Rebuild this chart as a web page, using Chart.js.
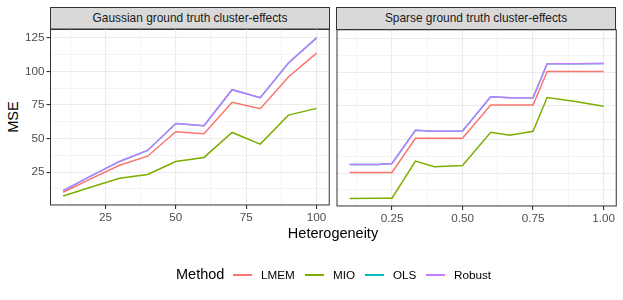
<!DOCTYPE html>
<html>
<head>
<meta charset="utf-8">
<script src="https://cdn.jsdelivr.net/npm/chart.js@4.4.1/dist/chart.umd.min.js"></script>
<style>
  body { margin: 0; background: #fff; font-family: "Liberation Sans", Arial, sans-serif; }
  #wrap { position: relative; width: 623px; height: 300px; overflow: hidden; }
  canvas { position: absolute; }
  .strip {
    position: absolute; top: 7px; height: 23px; box-sizing: border-box;
    background: #D9D9D9; border: 1px solid #333;
    font-size: 11.9px; color: #1a1a1a; text-align: center; line-height: 21px;
  }
  .title { position: absolute; font-size: 14.5px; color: #000; white-space: nowrap; }
  .key { position: absolute; top: 274px; width: 19px; height: 1.5px; }
  .lab { position: absolute; top: 268px; font-size: 11.7px; color: #000; }
</style>
</head>
<body>
<div id="wrap">
  <div class="strip" style="left:50px;width:280px;">Gaussian ground truth cluster-effects</div>
  <div class="strip" style="left:336px;width:280px;">Sparse ground truth cluster-effects</div>
  <canvas id="left" width="331" height="200" style="left:0;top:28px;"></canvas>
  <canvas id="right" width="288" height="200" style="left:335px;top:28px;"></canvas>
  <div class="title" style="left:333px;top:225px;transform:translateX(-50%);">Heterogeneity</div>
  <div class="title" style="left:13px;top:117px;transform:translate(-50%,-50%) rotate(-90deg);">MSE</div>
  <div id="legend"></div>
</div>
<script>
// data
const methods = ['LMEM', 'MIO', 'OLS', 'Robust'];
const colors = ['#F8766D', '#7CAE00', '#00BFC4', '#C77CFF'];

// Gaussian panel
const xGauss = [10, 20, 30, 40, 50, 60, 70, 80, 90, 100];
const gaussLMEM = [10.1, 20.2, 30.2, 36.9, 55.1, 53.6, 77.0, 72.3, 95.9, 113.6];
const gaussMIO = [7.3, 14.0, 20.5, 23.3, 33.0, 36.0, 54.6, 45.9, 67.5, 72.5];
const gaussOLS = [11.3, 22.2, 33.0, 41.2, 61.3, 59.6, 86.4, 80.5, 106.3, 125.0];
const gaussRobust = [11.3, 22.2, 33.0, 41.2, 61.3, 59.6, 86.4, 80.5, 106.3, 125.0];

// Sparse panel
const xSparse = [0.1, 0.2, 0.25, 0.333, 0.4, 0.5, 0.6, 0.667, 0.75, 0.8, 0.9, 1.0];
const sparseLMEM = [25.5, 25.5, 25.5, 50.9, 50.9, 50.9, 75.7, 75.7, 75.7, 100.6, 100.6, 100.6];
const sparseMIO = [6.1, 6.3, 6.4, 34.0, 29.7, 30.7, 55.3, 53.1, 56.1, 81.2, 78.2, 74.8];
const sparseOLS = [31.5, 31.5, 32.2, 56.8, 56.1, 56.3, 81.7, 81.0, 81.0, 106.3, 106.3, 106.5];
const sparseRobust = [31.5, 31.5, 32.2, 56.8, 56.1, 56.3, 81.7, 81.0, 81.0, 106.3, 106.3, 106.5];

// tick labels
const yTicks = [25, 50, 75, 100, 125];
const xTicksGauss = [25, 50, 75, 100];
const xTicksSparse = [0.25, 0.5, 0.75, 1.0];

const FONT = '"Liberation Sans", Arial, sans-serif';
const GRID = '#EBEBEB';

// minor gridlines sit halfway between the major ones
function withMinor(major, lo, hi) {
  const step = major[1] - major[0];
  const out = [];
  for (let v = major[0] - step / 2; v <= hi; v += step / 2) {
    if (v >= lo) out.push(+v.toFixed(4));
  }
  return out;
}

function axis(major, min, max, fmt, showLabels) {
  const all = withMinor(major, min, max);
  return {
    type: 'linear', min: min, max: max,
    afterBuildTicks: s => { s.ticks = all.map(v => ({ value: v })); },
    border: { display: false },
    grid: {
      color: GRID,
      lineWidth: c => major.includes(c.tick && c.tick.value) ? 1.1 : 0.55,
      tickColor: c => (showLabels && major.includes(c.tick && c.tick.value)) ? '#333' : 'rgba(0,0,0,0)',
      tickLength: 4
    },
    ticks: {
      display: showLabels, autoSkip: false, maxRotation: 0, padding: 2,
      color: '#4D4D4D', font: { family: FONT, size: 11.7 },
      callback: v => major.includes(v) ? fmt(v) : ''
    }
  };
}

const panelBorder = {
  id: 'panelBorder',
  afterDraw(chart) {
    const a = chart.chartArea, c = chart.ctx;
    c.save();
    c.strokeStyle = '#333';
    c.lineWidth = 1;
    c.strokeRect(a.left, a.top, a.right - a.left, a.bottom - a.top);
    c.restore();
  }
};

// panel box in page pixels: left, top, right, bottom
function makePanel(id, box, xs, series, xMajor, xMin, xMax, xFmt, yLabels) {
  const datasets = series.map((ys, i) => ({
    label: methods[i],
    data: xs.map((x, j) => ({ x: x, y: ys[j] })),
    borderColor: colors[i],
    borderWidth: 1.5,
    pointRadius: 0,
    tension: 0,
    order: 3 - i
  }));
  const xAxis = axis(xMajor, xMin, xMax, xFmt, true);
  const yAxis = axis(yTicks, 0.6, 131.6, v => String(v), yLabels);
  const canvas = document.getElementById(id);
  const chart = new Chart(canvas, {
    type: 'line',
    data: { datasets: datasets },
    options: {
      responsive: false, maintainAspectRatio: false, animation: false,
      layout: { padding: 0 },
      plugins: { legend: { display: false }, tooltip: { enabled: false } },
      scales: { x: xAxis, y: yAxis }
    },
    plugins: [panelBorder]
  });
  // grow the canvas until the plot area has the wanted size, then place it
  for (let k = 0; k < 3; k++) {
    const a = chart.chartArea;
    const w = chart.width + (box[2] - box[0]) - (a.right - a.left);
    const h = chart.height + (box[3] - box[1]) - (a.bottom - a.top);
    chart.resize(Math.round(w), Math.round(h));
  }
  const a = chart.chartArea;
  canvas.style.left = (box[0] - a.left) + 'px';
  canvas.style.top = (box[1] - a.top) + 'px';
  return chart;
}

makePanel('left', [50.5, 29.5, 329.5, 205.5], xGauss,
  [gaussLMEM, gaussMIO, gaussOLS, gaussRobust],
  xTicksGauss, 5.5, 104.5, v => String(v), true);
makePanel('right', [336.5, 29.5, 615.5, 205.5], xSparse,
  [sparseLMEM, sparseMIO, sparseOLS, sparseRobust],
  xTicksSparse, 0.055, 1.045, v => v.toFixed(2), false);

// shared legend under both panels
const legend = document.getElementById('legend');
const keyX = [233, 305, 365, 426];
let html = '<div class="title" style="left:176px;top:266px;">Method</div>';
methods.forEach((m, i) => {
  html += `<div class="key" style="left:${keyX[i]}px;background:${colors[i]};"></div>`;
  html += `<div class="lab" style="left:${keyX[i] + 28}px;">${m}</div>`;
});
legend.innerHTML = html;
</script>
</body>
</html>
